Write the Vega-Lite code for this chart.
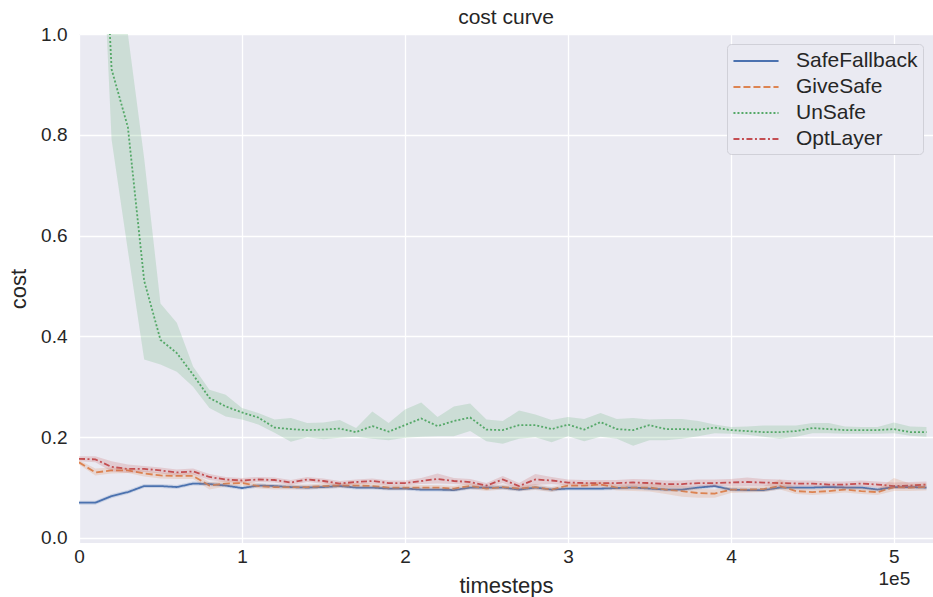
{
  "$schema": "https://vega.github.io/schema/vega-lite/v6.json",
  "width": 854,
  "height": 509,
  "autosize": "none",
  "padding": {"left": 79, "top": 34, "right": 0, "bottom": 54},
  "background": "white",
  "title": {"text": "cost curve", "fontSize": 21, "font": "Liberation Sans", "fontWeight": "normal", "color": "#262626", "offset": -3, "anchor": "middle"},
  "config": {
    "view": {"fill": "#EAEAF2", "stroke": null},
    "axis": {"gridColor": "white", "gridWidth": 1.3, "gridOpacity": 1, "domain": false, "ticks": false, "labelFont": "Liberation Sans", "labelFontSize": 19, "labelColor": "#262626", "titleFont": "Liberation Sans", "titleFontSize": 22, "titleFontWeight": "normal", "titleColor": "#262626"}
  },
  "data": {"values": [
{"s":"SafeFallback","t":0,"m":0.070,"lo":0.066,"hi":0.074},
{"s":"SafeFallback","t":10000,"m":0.070,"lo":0.066,"hi":0.074},
{"s":"SafeFallback","t":20000,"m":0.083,"lo":0.079,"hi":0.087},
{"s":"SafeFallback","t":30000,"m":0.091,"lo":0.087,"hi":0.095},
{"s":"SafeFallback","t":40000,"m":0.103,"lo":0.099,"hi":0.107},
{"s":"SafeFallback","t":50000,"m":0.103,"lo":0.099,"hi":0.107},
{"s":"SafeFallback","t":60000,"m":0.101,"lo":0.097,"hi":0.105},
{"s":"SafeFallback","t":70000,"m":0.108,"lo":0.104,"hi":0.112},
{"s":"SafeFallback","t":80000,"m":0.107,"lo":0.103,"hi":0.111},
{"s":"SafeFallback","t":90000,"m":0.104,"lo":0.100,"hi":0.108},
{"s":"SafeFallback","t":100000,"m":0.099,"lo":0.095,"hi":0.103},
{"s":"SafeFallback","t":110000,"m":0.104,"lo":0.100,"hi":0.108},
{"s":"SafeFallback","t":120000,"m":0.103,"lo":0.099,"hi":0.107},
{"s":"SafeFallback","t":130000,"m":0.101,"lo":0.097,"hi":0.105},
{"s":"SafeFallback","t":140000,"m":0.100,"lo":0.096,"hi":0.104},
{"s":"SafeFallback","t":150000,"m":0.101,"lo":0.097,"hi":0.105},
{"s":"SafeFallback","t":160000,"m":0.103,"lo":0.099,"hi":0.107},
{"s":"SafeFallback","t":170000,"m":0.100,"lo":0.096,"hi":0.104},
{"s":"SafeFallback","t":180000,"m":0.100,"lo":0.096,"hi":0.104},
{"s":"SafeFallback","t":190000,"m":0.098,"lo":0.094,"hi":0.102},
{"s":"SafeFallback","t":200000,"m":0.098,"lo":0.094,"hi":0.102},
{"s":"SafeFallback","t":210000,"m":0.096,"lo":0.092,"hi":0.100},
{"s":"SafeFallback","t":220000,"m":0.096,"lo":0.092,"hi":0.100},
{"s":"SafeFallback","t":230000,"m":0.095,"lo":0.091,"hi":0.099},
{"s":"SafeFallback","t":240000,"m":0.100,"lo":0.096,"hi":0.104},
{"s":"SafeFallback","t":250000,"m":0.100,"lo":0.096,"hi":0.104},
{"s":"SafeFallback","t":260000,"m":0.100,"lo":0.096,"hi":0.104},
{"s":"SafeFallback","t":270000,"m":0.096,"lo":0.092,"hi":0.100},
{"s":"SafeFallback","t":280000,"m":0.100,"lo":0.096,"hi":0.104},
{"s":"SafeFallback","t":290000,"m":0.096,"lo":0.092,"hi":0.100},
{"s":"SafeFallback","t":300000,"m":0.098,"lo":0.094,"hi":0.102},
{"s":"SafeFallback","t":310000,"m":0.098,"lo":0.094,"hi":0.102},
{"s":"SafeFallback","t":320000,"m":0.098,"lo":0.094,"hi":0.102},
{"s":"SafeFallback","t":330000,"m":0.099,"lo":0.095,"hi":0.103},
{"s":"SafeFallback","t":340000,"m":0.100,"lo":0.096,"hi":0.104},
{"s":"SafeFallback","t":350000,"m":0.098,"lo":0.094,"hi":0.102},
{"s":"SafeFallback","t":360000,"m":0.096,"lo":0.092,"hi":0.100},
{"s":"SafeFallback","t":370000,"m":0.096,"lo":0.092,"hi":0.100},
{"s":"SafeFallback","t":380000,"m":0.100,"lo":0.096,"hi":0.104},
{"s":"SafeFallback","t":390000,"m":0.103,"lo":0.099,"hi":0.107},
{"s":"SafeFallback","t":400000,"m":0.096,"lo":0.092,"hi":0.100},
{"s":"SafeFallback","t":410000,"m":0.095,"lo":0.091,"hi":0.099},
{"s":"SafeFallback","t":420000,"m":0.095,"lo":0.091,"hi":0.099},
{"s":"SafeFallback","t":430000,"m":0.100,"lo":0.096,"hi":0.104},
{"s":"SafeFallback","t":440000,"m":0.100,"lo":0.096,"hi":0.104},
{"s":"SafeFallback","t":450000,"m":0.100,"lo":0.096,"hi":0.104},
{"s":"SafeFallback","t":460000,"m":0.101,"lo":0.097,"hi":0.105},
{"s":"SafeFallback","t":470000,"m":0.100,"lo":0.096,"hi":0.104},
{"s":"SafeFallback","t":480000,"m":0.100,"lo":0.096,"hi":0.104},
{"s":"SafeFallback","t":490000,"m":0.096,"lo":0.092,"hi":0.100},
{"s":"SafeFallback","t":500000,"m":0.101,"lo":0.097,"hi":0.105},
{"s":"SafeFallback","t":510000,"m":0.101,"lo":0.097,"hi":0.105},
{"s":"SafeFallback","t":520000,"m":0.100,"lo":0.096,"hi":0.104},
{"s":"GiveSafe","t":0,"m":0.150,"lo":0.146,"hi":0.154},
{"s":"GiveSafe","t":10000,"m":0.130,"lo":0.124,"hi":0.138},
{"s":"GiveSafe","t":20000,"m":0.134,"lo":0.128,"hi":0.140},
{"s":"GiveSafe","t":30000,"m":0.134,"lo":0.129,"hi":0.139},
{"s":"GiveSafe","t":40000,"m":0.128,"lo":0.122,"hi":0.134},
{"s":"GiveSafe","t":50000,"m":0.124,"lo":0.118,"hi":0.130},
{"s":"GiveSafe","t":60000,"m":0.123,"lo":0.117,"hi":0.129},
{"s":"GiveSafe","t":70000,"m":0.123,"lo":0.117,"hi":0.129},
{"s":"GiveSafe","t":80000,"m":0.104,"lo":0.096,"hi":0.111},
{"s":"GiveSafe","t":90000,"m":0.108,"lo":0.102,"hi":0.114},
{"s":"GiveSafe","t":100000,"m":0.109,"lo":0.104,"hi":0.114},
{"s":"GiveSafe","t":110000,"m":0.103,"lo":0.098,"hi":0.108},
{"s":"GiveSafe","t":120000,"m":0.101,"lo":0.096,"hi":0.106},
{"s":"GiveSafe","t":130000,"m":0.101,"lo":0.096,"hi":0.106},
{"s":"GiveSafe","t":140000,"m":0.101,"lo":0.096,"hi":0.106},
{"s":"GiveSafe","t":150000,"m":0.103,"lo":0.098,"hi":0.108},
{"s":"GiveSafe","t":160000,"m":0.104,"lo":0.099,"hi":0.109},
{"s":"GiveSafe","t":170000,"m":0.104,"lo":0.099,"hi":0.109},
{"s":"GiveSafe","t":180000,"m":0.103,"lo":0.098,"hi":0.108},
{"s":"GiveSafe","t":190000,"m":0.100,"lo":0.095,"hi":0.105},
{"s":"GiveSafe","t":200000,"m":0.100,"lo":0.095,"hi":0.105},
{"s":"GiveSafe","t":210000,"m":0.100,"lo":0.095,"hi":0.105},
{"s":"GiveSafe","t":220000,"m":0.100,"lo":0.095,"hi":0.105},
{"s":"GiveSafe","t":230000,"m":0.098,"lo":0.093,"hi":0.103},
{"s":"GiveSafe","t":240000,"m":0.103,"lo":0.097,"hi":0.109},
{"s":"GiveSafe","t":250000,"m":0.098,"lo":0.093,"hi":0.103},
{"s":"GiveSafe","t":260000,"m":0.101,"lo":0.096,"hi":0.106},
{"s":"GiveSafe","t":270000,"m":0.098,"lo":0.093,"hi":0.103},
{"s":"GiveSafe","t":280000,"m":0.101,"lo":0.095,"hi":0.107},
{"s":"GiveSafe","t":290000,"m":0.096,"lo":0.091,"hi":0.101},
{"s":"GiveSafe","t":300000,"m":0.104,"lo":0.099,"hi":0.109},
{"s":"GiveSafe","t":310000,"m":0.104,"lo":0.099,"hi":0.109},
{"s":"GiveSafe","t":320000,"m":0.106,"lo":0.100,"hi":0.112},
{"s":"GiveSafe","t":330000,"m":0.100,"lo":0.094,"hi":0.106},
{"s":"GiveSafe","t":340000,"m":0.100,"lo":0.093,"hi":0.107},
{"s":"GiveSafe","t":350000,"m":0.100,"lo":0.092,"hi":0.108},
{"s":"GiveSafe","t":360000,"m":0.096,"lo":0.087,"hi":0.105},
{"s":"GiveSafe","t":370000,"m":0.093,"lo":0.082,"hi":0.104},
{"s":"GiveSafe","t":380000,"m":0.089,"lo":0.080,"hi":0.098},
{"s":"GiveSafe","t":390000,"m":0.088,"lo":0.080,"hi":0.096},
{"s":"GiveSafe","t":400000,"m":0.096,"lo":0.089,"hi":0.103},
{"s":"GiveSafe","t":410000,"m":0.096,"lo":0.090,"hi":0.102},
{"s":"GiveSafe","t":420000,"m":0.097,"lo":0.091,"hi":0.103},
{"s":"GiveSafe","t":430000,"m":0.103,"lo":0.096,"hi":0.116},
{"s":"GiveSafe","t":440000,"m":0.093,"lo":0.087,"hi":0.099},
{"s":"GiveSafe","t":450000,"m":0.091,"lo":0.085,"hi":0.097},
{"s":"GiveSafe","t":460000,"m":0.093,"lo":0.087,"hi":0.099},
{"s":"GiveSafe","t":470000,"m":0.096,"lo":0.090,"hi":0.102},
{"s":"GiveSafe","t":480000,"m":0.093,"lo":0.087,"hi":0.099},
{"s":"GiveSafe","t":490000,"m":0.091,"lo":0.085,"hi":0.097},
{"s":"GiveSafe","t":500000,"m":0.101,"lo":0.093,"hi":0.119},
{"s":"GiveSafe","t":510000,"m":0.100,"lo":0.093,"hi":0.108},
{"s":"GiveSafe","t":520000,"m":0.101,"lo":0.094,"hi":0.108},
{"s":"UnSafe","t":0,"m":2.000,"lo":1.800,"hi":2.200},
{"s":"UnSafe","t":10000,"m":1.600,"lo":1.500,"hi":1.750},
{"s":"UnSafe","t":20000,"m":0.930,"lo":0.790,"hi":1.120},
{"s":"UnSafe","t":30000,"m":0.815,"lo":0.570,"hi":1.000},
{"s":"UnSafe","t":40000,"m":0.510,"lo":0.354,"hi":0.753},
{"s":"UnSafe","t":50000,"m":0.393,"lo":0.344,"hi":0.465},
{"s":"UnSafe","t":60000,"m":0.367,"lo":0.330,"hi":0.427},
{"s":"UnSafe","t":70000,"m":0.324,"lo":0.300,"hi":0.340},
{"s":"UnSafe","t":80000,"m":0.278,"lo":0.258,"hi":0.294},
{"s":"UnSafe","t":90000,"m":0.261,"lo":0.241,"hi":0.284},
{"s":"UnSafe","t":100000,"m":0.249,"lo":0.235,"hi":0.258},
{"s":"UnSafe","t":110000,"m":0.239,"lo":0.225,"hi":0.248},
{"s":"UnSafe","t":120000,"m":0.219,"lo":0.209,"hi":0.235},
{"s":"UnSafe","t":130000,"m":0.216,"lo":0.191,"hi":0.238},
{"s":"UnSafe","t":140000,"m":0.214,"lo":0.200,"hi":0.228},
{"s":"UnSafe","t":150000,"m":0.215,"lo":0.196,"hi":0.229},
{"s":"UnSafe","t":160000,"m":0.217,"lo":0.199,"hi":0.234},
{"s":"UnSafe","t":170000,"m":0.210,"lo":0.201,"hi":0.218},
{"s":"UnSafe","t":180000,"m":0.222,"lo":0.197,"hi":0.251},
{"s":"UnSafe","t":190000,"m":0.211,"lo":0.194,"hi":0.228},
{"s":"UnSafe","t":200000,"m":0.224,"lo":0.199,"hi":0.255},
{"s":"UnSafe","t":210000,"m":0.237,"lo":0.201,"hi":0.269},
{"s":"UnSafe","t":220000,"m":0.222,"lo":0.202,"hi":0.240},
{"s":"UnSafe","t":230000,"m":0.232,"lo":0.202,"hi":0.261},
{"s":"UnSafe","t":240000,"m":0.239,"lo":0.212,"hi":0.267},
{"s":"UnSafe","t":250000,"m":0.215,"lo":0.192,"hi":0.235},
{"s":"UnSafe","t":260000,"m":0.214,"lo":0.187,"hi":0.232},
{"s":"UnSafe","t":270000,"m":0.224,"lo":0.197,"hi":0.253},
{"s":"UnSafe","t":280000,"m":0.224,"lo":0.200,"hi":0.245},
{"s":"UnSafe","t":290000,"m":0.216,"lo":0.190,"hi":0.234},
{"s":"UnSafe","t":300000,"m":0.225,"lo":0.202,"hi":0.240},
{"s":"UnSafe","t":310000,"m":0.215,"lo":0.192,"hi":0.236},
{"s":"UnSafe","t":320000,"m":0.230,"lo":0.201,"hi":0.248},
{"s":"UnSafe","t":330000,"m":0.216,"lo":0.197,"hi":0.236},
{"s":"UnSafe","t":340000,"m":0.214,"lo":0.183,"hi":0.238},
{"s":"UnSafe","t":350000,"m":0.224,"lo":0.194,"hi":0.235},
{"s":"UnSafe","t":360000,"m":0.216,"lo":0.194,"hi":0.236},
{"s":"UnSafe","t":370000,"m":0.216,"lo":0.197,"hi":0.236},
{"s":"UnSafe","t":380000,"m":0.215,"lo":0.202,"hi":0.232},
{"s":"UnSafe","t":390000,"m":0.219,"lo":0.208,"hi":0.225},
{"s":"UnSafe","t":400000,"m":0.214,"lo":0.207,"hi":0.220},
{"s":"UnSafe","t":410000,"m":0.212,"lo":0.205,"hi":0.221},
{"s":"UnSafe","t":420000,"m":0.210,"lo":0.201,"hi":0.223},
{"s":"UnSafe","t":430000,"m":0.210,"lo":0.197,"hi":0.223},
{"s":"UnSafe","t":440000,"m":0.212,"lo":0.201,"hi":0.223},
{"s":"UnSafe","t":450000,"m":0.218,"lo":0.208,"hi":0.228},
{"s":"UnSafe","t":460000,"m":0.216,"lo":0.208,"hi":0.228},
{"s":"UnSafe","t":470000,"m":0.214,"lo":0.207,"hi":0.221},
{"s":"UnSafe","t":480000,"m":0.214,"lo":0.207,"hi":0.220},
{"s":"UnSafe","t":490000,"m":0.214,"lo":0.207,"hi":0.220},
{"s":"UnSafe","t":500000,"m":0.216,"lo":0.208,"hi":0.229},
{"s":"UnSafe","t":510000,"m":0.210,"lo":0.203,"hi":0.221},
{"s":"UnSafe","t":520000,"m":0.210,"lo":0.201,"hi":0.220},
{"s":"OptLayer","t":0,"m":0.157,"lo":0.152,"hi":0.162},
{"s":"OptLayer","t":10000,"m":0.156,"lo":0.150,"hi":0.162},
{"s":"OptLayer","t":20000,"m":0.141,"lo":0.132,"hi":0.152},
{"s":"OptLayer","t":30000,"m":0.137,"lo":0.129,"hi":0.146},
{"s":"OptLayer","t":40000,"m":0.137,"lo":0.131,"hi":0.143},
{"s":"OptLayer","t":50000,"m":0.134,"lo":0.128,"hi":0.140},
{"s":"OptLayer","t":60000,"m":0.130,"lo":0.124,"hi":0.136},
{"s":"OptLayer","t":70000,"m":0.132,"lo":0.126,"hi":0.138},
{"s":"OptLayer","t":80000,"m":0.121,"lo":0.115,"hi":0.127},
{"s":"OptLayer","t":90000,"m":0.116,"lo":0.111,"hi":0.121},
{"s":"OptLayer","t":100000,"m":0.114,"lo":0.109,"hi":0.119},
{"s":"OptLayer","t":110000,"m":0.116,"lo":0.111,"hi":0.121},
{"s":"OptLayer","t":120000,"m":0.115,"lo":0.110,"hi":0.120},
{"s":"OptLayer","t":130000,"m":0.110,"lo":0.105,"hi":0.115},
{"s":"OptLayer","t":140000,"m":0.116,"lo":0.111,"hi":0.121},
{"s":"OptLayer","t":150000,"m":0.113,"lo":0.108,"hi":0.118},
{"s":"OptLayer","t":160000,"m":0.108,"lo":0.103,"hi":0.113},
{"s":"OptLayer","t":170000,"m":0.111,"lo":0.106,"hi":0.116},
{"s":"OptLayer","t":180000,"m":0.113,"lo":0.108,"hi":0.118},
{"s":"OptLayer","t":190000,"m":0.109,"lo":0.104,"hi":0.114},
{"s":"OptLayer","t":200000,"m":0.109,"lo":0.104,"hi":0.114},
{"s":"OptLayer","t":210000,"m":0.113,"lo":0.107,"hi":0.119},
{"s":"OptLayer","t":220000,"m":0.117,"lo":0.108,"hi":0.128},
{"s":"OptLayer","t":230000,"m":0.113,"lo":0.107,"hi":0.119},
{"s":"OptLayer","t":240000,"m":0.111,"lo":0.105,"hi":0.117},
{"s":"OptLayer","t":250000,"m":0.104,"lo":0.099,"hi":0.109},
{"s":"OptLayer","t":260000,"m":0.116,"lo":0.109,"hi":0.123},
{"s":"OptLayer","t":270000,"m":0.103,"lo":0.097,"hi":0.109},
{"s":"OptLayer","t":280000,"m":0.116,"lo":0.105,"hi":0.127},
{"s":"OptLayer","t":290000,"m":0.114,"lo":0.107,"hi":0.121},
{"s":"OptLayer","t":300000,"m":0.110,"lo":0.104,"hi":0.116},
{"s":"OptLayer","t":310000,"m":0.109,"lo":0.103,"hi":0.115},
{"s":"OptLayer","t":320000,"m":0.109,"lo":0.103,"hi":0.115},
{"s":"OptLayer","t":330000,"m":0.109,"lo":0.103,"hi":0.115},
{"s":"OptLayer","t":340000,"m":0.110,"lo":0.103,"hi":0.117},
{"s":"OptLayer","t":350000,"m":0.109,"lo":0.102,"hi":0.116},
{"s":"OptLayer","t":360000,"m":0.107,"lo":0.100,"hi":0.114},
{"s":"OptLayer","t":370000,"m":0.107,"lo":0.100,"hi":0.114},
{"s":"OptLayer","t":380000,"m":0.109,"lo":0.102,"hi":0.116},
{"s":"OptLayer","t":390000,"m":0.109,"lo":0.102,"hi":0.116},
{"s":"OptLayer","t":400000,"m":0.110,"lo":0.103,"hi":0.117},
{"s":"OptLayer","t":410000,"m":0.111,"lo":0.103,"hi":0.120},
{"s":"OptLayer","t":420000,"m":0.110,"lo":0.103,"hi":0.117},
{"s":"OptLayer","t":430000,"m":0.109,"lo":0.102,"hi":0.116},
{"s":"OptLayer","t":440000,"m":0.108,"lo":0.102,"hi":0.114},
{"s":"OptLayer","t":450000,"m":0.108,"lo":0.102,"hi":0.114},
{"s":"OptLayer","t":460000,"m":0.106,"lo":0.100,"hi":0.112},
{"s":"OptLayer","t":470000,"m":0.106,"lo":0.100,"hi":0.112},
{"s":"OptLayer","t":480000,"m":0.108,"lo":0.102,"hi":0.114},
{"s":"OptLayer","t":490000,"m":0.106,"lo":0.100,"hi":0.112},
{"s":"OptLayer","t":500000,"m":0.103,"lo":0.097,"hi":0.110},
{"s":"OptLayer","t":510000,"m":0.104,"lo":0.098,"hi":0.111},
{"s":"OptLayer","t":520000,"m":0.106,"lo":0.100,"hi":0.112}
  ]},
  "layer": [
    {
      "mark": {"type": "line", "clip": true, "strokeWidth": 1.8},
      "encoding": {
        "x": {"field": "t", "type": "quantitative", "scale": {"domain": [0, 524000], "nice": false, "zero": false},
              "axis": {"title": "timesteps", "values": [0, 100000, 200000, 300000, 400000, 500000], "labelFlush": false, "labelOverlap": false, "labelPadding": 4, "labelLineHeight": 22,
                       "labelExpr": "datum.value == 500000 ? ['5', '\u00a0\u00a0\u00a0\u00a0\u00a01e5'] : format(datum.value / 100000, 'd')",
                       "titleY": 42, "titleBaseline": "middle"}},
        "y": {"field": "m", "type": "quantitative", "scale": {"domain": [-0.01, 1.0], "nice": false, "zero": false},
              "axis": {"title": "cost", "values": [0, 0.2, 0.4, 0.6, 0.8, 1.0], "format": ".1f", "labelPadding": 12, "titleX": -61, "titleBaseline": "middle"}},
        "color": {"field": "s", "type": "nominal",
                  "scale": {"domain": ["SafeFallback", "GiveSafe", "UnSafe", "OptLayer"], "range": ["#4C72B0", "#DD8452", "#55A868", "#C44E52"]},
                  "legend": {"title": null, "orient": "top-right", "offset": 10, "symbolType": "M-2.05,0H2.05", "symbolSize": 484, "symbolStrokeWidth": 1.8, "symbolOpacity": 1, "symbolOffset": 12,
                             "labelFont": "Liberation Sans", "labelFontSize": 21, "labelColor": "#262626", "labelOffset": 28, "rowPadding": 4,
                             "fillColor": "#EAEAF2", "strokeColor": "#D0D0D8", "cornerRadius": 4, "padding": 5}},
        "strokeDash": {"field": "s", "type": "nominal",
                       "scale": {"domain": ["SafeFallback", "GiveSafe", "UnSafe", "OptLayer"], "range": [[1, 0], [7, 3], [2, 2], [6, 2.5, 2, 2.5]]}}
      }
    },
    {
      "mark": {"type": "area", "fillOpacity": 0.2, "clip": true},
      "encoding": {
        "x": {"field": "t", "type": "quantitative"},
        "y": {"field": "lo", "type": "quantitative", "axis": {"title": "cost"}},
        "y2": {"field": "hi"},
        "color": {"field": "s", "type": "nominal"}
      }
    }
  ]
}
